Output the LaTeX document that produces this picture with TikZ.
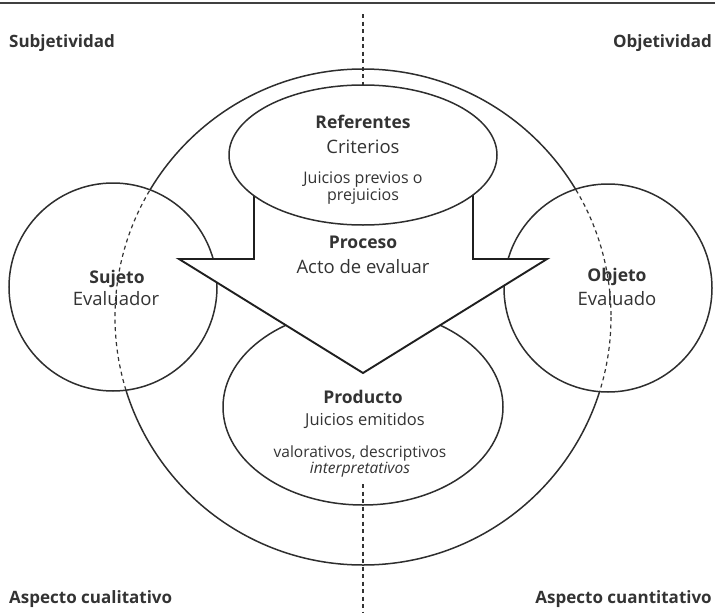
\documentclass[tikz,border=0pt]{standalone}
\usepackage{fontspec}
\setmainfont{Open Sans}
\begin{document}
\begin{tikzpicture}[x=1pt,y=-1pt,
  ink/.style={draw=black!82, line width=1.5pt},
  dashline/.style={draw=black!80, line width=1.2pt, dash pattern=on 4pt off 3.5pt},
  corner/.style={font=\bfseries\fontsize{17}{20}\selectfont, text=black!80, inner sep=0pt},
  head/.style={font=\bfseries\fontsize{17.5}{20}\selectfont, text=black!80, inner sep=0pt},
  body/.style={font=\fontsize{18.5}{21}\selectfont, text=black!80, inner sep=0pt},
  small/.style={font=\fontsize{15.5}{17}\selectfont, text=black!80, inner sep=0pt, align=center}]
\useasboundingbox (0,0) rectangle (715,613);

% key points of the layout
\coordinate (C)  at (363,317);   % centre of the large circle
\coordinate (S)  at (113,287);   % subject circle
\coordinate (O)  at (608,288);   % object circle
\coordinate (R)  at (363,155);   % referents ellipse
\coordinate (P)  at (363,407);   % product ellipse

% rule along the top edge
\draw[black!75, line width=2.4pt] (0,3) -- (715,3);

% vertical dashed axis
\coordinate (axT) at (363,14);
\coordinate (axB) at (363,613);
\draw[dashline] (axT) -- (363,100);

% large circle
\draw[ink] (C) circle[radius=248];

% subject and object circles, with the large circle dashed inside them
\foreach \c in {S,O}{
  \fill[white] (\c) circle[radius=104];
  \begin{scope}
    \clip (\c) circle[radius=104];
    \draw[dashline] (C) circle[radius=248];
  \end{scope}
  \draw[ink] (\c) circle[radius=104];
}

% product ellipse
\draw[ink, fill=white] (P) ellipse[x radius=140, y radius=98];
\coordinate (axM) at (363,484);
\draw[dashline] (axM) -- (axB);

% process arrow
\draw[draw=black!88, line width=1.9pt, fill=white, line join=miter]
  (254,170) -- (254,259) -- (179,259) -- (363,373) -- (547,259)
  -- (473,259) -- (473,170);

% referents ellipse
\draw[ink, fill=white] (R) ellipse[x radius=134, y radius=70];

% corner labels
\node[corner, anchor=west] (subj) at (9,43) {Subjetividad};
\node[corner, anchor=east] (obj)  at (712,43) {Objetividad};
\node[corner, anchor=west] (cual) at (9,599) {Aspecto cualitativo};
\node[corner, anchor=east] (cuan) at (712,599) {Aspecto cuantitativo};

% referents
\node[head]  (ref)  at (363,122) {Referentes};
\node[body]  (crit) at (363,147) {Criterios};
\node[small, font=\fontsize{16}{18}\selectfont] (prev) at (363,188) {Juicios previos o\\[-1pt]prejuicios};

% process
\node[head] (proc) at (363,242) {Proceso};
\node[body] (acto) at (363,267) {Acto de evaluar};

% subject and object
\node[head] (suj)  at (117,279) {Sujeto};
\node[body] (eval) at (116,299) {Evaluador};
\node[head] (objt) at (617,277) {Objeto};
\node[body] (evdo) at (617,299) {Evaluado};

% product
\node[head]  (prod) at (363,397) {Producto};
\node[body, font=\fontsize{16.5}{19}\selectfont] (jui) at (365,421) {Juicios emitidos};
\node[small] (val)  at (360,461) {valorativos, descriptivos\\[-1pt]\textit{interpretativos}};
\end{tikzpicture}
\end{document}
